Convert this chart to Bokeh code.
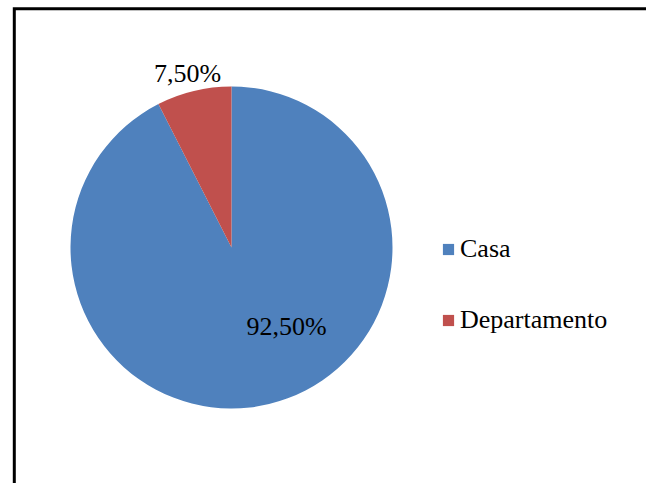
import numpy as np
from bokeh.plotting import figure
from bokeh.models import ColumnDataSource, Range1d, Legend, LegendItem
from bokeh.core.properties import value
from bokeh.embed import file_html
from bokeh.resources import INLINE

# ---- data ----
categories = ["Casa", "Departamento"]
shares = [92.5, 7.5]
label_texts = ["92,50%", "7,50%"]
colors = ["#4F81BD", "#C0504D"]

# ---- layout constants ----
W, H = 646, 483
CX, CY = 231, 236          # pie centre (pixels in plot space)
R = 161                    # pie radius (pixels)
LABEL_OFFSETS = [(55, -79), (-44, 174)]   # label anchor offsets from centre
FONT = "Liberation Serif"

frac = np.array(shares) / np.sum(shares)
cum = np.concatenate([[0.0], np.cumsum(frac)])
start = np.pi / 2 - 2 * np.pi * cum[:-1]
end = np.pi / 2 - 2 * np.pi * cum[1:]

src = ColumnDataSource(dict(
    cat=categories, start=start, end=end, color=colors,
    x=[CX] * len(categories), y=[CY] * len(categories),
))

p = figure(width=W, height=H, x_range=Range1d(0, W), y_range=Range1d(0, H),
           output_backend="svg", toolbar_location=None, min_border=0,
           outline_line_color=None)
p.axis.visible = False
p.grid.visible = False
p.background_fill_color = "white"
p.border_fill_color = "white"

# frame (left + top border)
p.line([13.8, 13.8, W], [0, H - 8.3, H - 8.3], line_color="black",
       line_width=3, line_join="miter")

wedges = p.wedge(x="x", y="y", radius=R, start_angle="start", end_angle="end",
                 direction="clock", fill_color="color", line_color=None,
                 source=src)

lsrc = ColumnDataSource(dict(
    x=[CX + dx for dx, dy in LABEL_OFFSETS],
    y=[CY + dy for dx, dy in LABEL_OFFSETS],
    t=label_texts,
))
p.text(x="x", y="y", text="t", source=lsrc, text_align="center",
       text_baseline="middle", text_font=value(FONT), text_font_size="26px",
       text_color="black")

legend = Legend(
    items=[LegendItem(label=c, renderers=[wedges], index=i)
           for i, c in enumerate(categories)],
    location=(441, 148), orientation="vertical",
    glyph_width=14, glyph_height=14, label_standoff=5,
    label_text_font=FONT, label_text_font_size="26px",
    label_text_color="black", spacing=41, padding=0, margin=0,
    border_line_color=None, background_fill_alpha=0,
)
p.add_layout(legend)

open("out.html", "w").write(file_html(p, INLINE))
